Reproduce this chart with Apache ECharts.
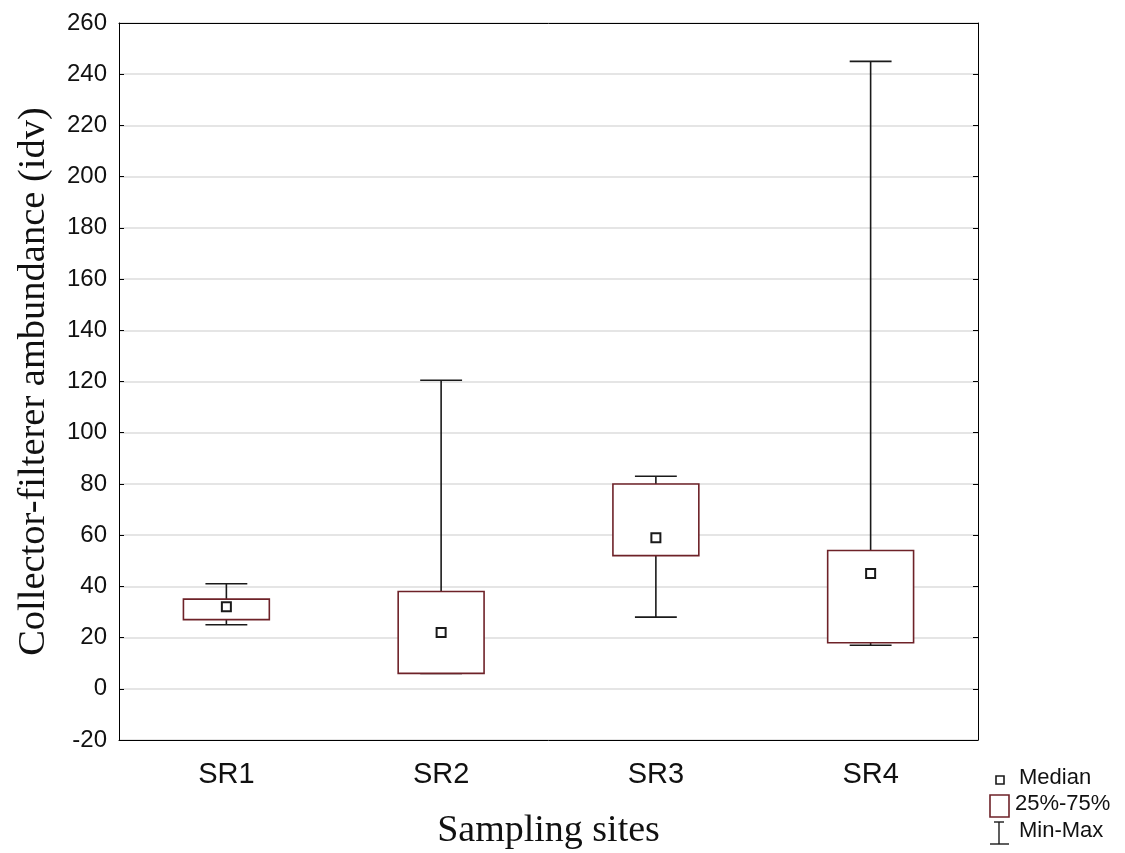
<!DOCTYPE html>
<html>
<head>
<meta charset="utf-8">
<script src="https://cdn.jsdelivr.net/npm/echarts@6/dist/echarts.min.js"></script>
<style>html,body{margin:0;padding:0;background:#fff;}#c{width:1125px;height:853px;}</style>
</head>
<body>
<div id="c"></div>
<script>
const categories = ['SR1', 'SR2', 'SR3', 'SR4'];
const minVals    = [25, 6, 28, 17];
const q1Vals     = [27, 6, 52, 18];
const medianVals = [32, 22, 59, 45];
const q3Vals     = [35, 38, 80, 54];
const maxVals    = [41, 120.5, 83, 245];
const yTicks = { min: -20, max: 260, step: 20 };
const legendLabels = ['Median', '25%-75%', 'Min-Max'];

const BOX_COLOR = '#6e2228';
const LINE_COLOR = '#1a1a1a';
const SANS = 'Liberation Sans, Arial, sans-serif';
const SERIF = 'Liberation Serif, Times New Roman, serif';

const data = categories.map((c, i) => [i, minVals[i], q1Vals[i], medianVals[i], q3Vals[i], maxVals[i]]);

function renderItem(params, api) {
  const x = api.value(0);
  const band = api.size([1, 0])[0];
  const boxW = band * 0.4;
  const capW = band * 0.195;
  const pMin = api.coord([x, api.value(1)]);
  const pQ1 = api.coord([x, api.value(2)]);
  const pMed = api.coord([x, api.value(3)]);
  const pQ3 = api.coord([x, api.value(4)]);
  const pMax = api.coord([x, api.value(5)]);
  const cx = pMed[0];
  const lineStyle = { stroke: LINE_COLOR, lineWidth: 1.6 };
  const children = [
    { type: 'line', shape: { x1: cx, y1: pQ3[1], x2: cx, y2: pMax[1] }, style: lineStyle },
    { type: 'line', shape: { x1: cx - capW / 2, y1: pMax[1], x2: cx + capW / 2, y2: pMax[1] }, style: lineStyle },
    { type: 'line', shape: { x1: cx, y1: pQ1[1], x2: cx, y2: pMin[1] }, style: lineStyle },
    { type: 'line', shape: { x1: cx - capW / 2, y1: pMin[1], x2: cx + capW / 2, y2: pMin[1] }, style: lineStyle },
    { type: 'rect', shape: { x: cx - boxW / 2, y: pQ3[1], width: boxW, height: pQ1[1] - pQ3[1] },
      style: { fill: '#fff', stroke: BOX_COLOR, lineWidth: 1.6 } },
    { type: 'rect', shape: { x: cx - 4.5, y: pMed[1] - 4.5, width: 9, height: 9 },
      style: { fill: '#fff', stroke: LINE_COLOR, lineWidth: 2 } }
  ];
  return { type: 'group', children: children };
}

const chart = echarts.init(document.getElementById('c'), null, { renderer: 'canvas' });
chart.setOption({
  backgroundColor: '#fff',
  animation: false,
  grid: { left: 119, right: 147, top: 23, bottom: 113, show: false, containLabel: false, outerBoundsMode: 'none' },
  xAxis: [{
    type: 'category',
    data: categories,
    name: 'Sampling sites',
    nameLocation: 'middle',
    nameGap: 72,
    nameTextStyle: { fontFamily: SERIF, fontSize: 38, color: '#111' },
    axisLine: { show: true, onZero: false, lineStyle: { color: '#000', width: 1 } },
    axisTick: { show: false },
    axisLabel: { fontFamily: SANS, fontSize: 29, color: '#111', margin: 20 },
    splitLine: { show: false },
    z: 10
  }, {
    type: 'category',
    data: categories,
    position: 'top',
    axisLine: { show: true, onZero: false, lineStyle: { color: '#000', width: 1 } },
    axisTick: { show: false },
    axisLabel: { show: false },
    splitLine: { show: false },
    z: 10
  }],
  yAxis: [{
    type: 'value',
    min: yTicks.min, max: yTicks.max, interval: yTicks.step,
    name: 'Collector-filterer ambundance (idv)',
    nameLocation: 'middle',
    nameGap: 66,
    nameTextStyle: { fontFamily: SERIF, fontSize: 38.5, color: '#111' },
    axisLine: { show: true, onZero: false, lineStyle: { color: '#000', width: 1 } },
    axisTick: { show: true, inside: true, length: 5, lineStyle: { color: '#000' } },
    axisLabel: { fontFamily: SANS, fontSize: 24, color: '#111', margin: 12 },
    splitLine: { show: true, lineStyle: { color: '#dcdcdc', width: 1.5 } }
  }, {
    type: 'value',
    position: 'right',
    min: yTicks.min, max: yTicks.max, interval: yTicks.step,
    axisLine: { show: true, onZero: false, lineStyle: { color: '#000', width: 1 } },
    axisTick: { show: true, inside: true, length: 5, lineStyle: { color: '#000' } },
    axisLabel: { show: false },
    splitLine: { show: false },
    z: 10
  }],
  series: [{
    type: 'custom',
    renderItem: renderItem,
    data: data,
    encode: { x: 0, y: [1, 2, 3, 4, 5] },
    clip: false
  }],
  graphic: [
    { type: 'rect', shape: { x: 996, y: 776, width: 8, height: 8 }, style: { fill: '#fff', stroke: LINE_COLOR, lineWidth: 1.6 } },
    { type: 'text', left: 1019, top: 767, style: { text: legendLabels[0], font: '22px ' + SANS, fill: '#111' } },
    { type: 'rect', shape: { x: 990, y: 795, width: 19, height: 22 }, style: { fill: '#fff', stroke: BOX_COLOR, lineWidth: 1.6 } },
    { type: 'text', left: 1015, top: 793, style: { text: legendLabels[1], font: '22px ' + SANS, fill: '#111' } },
    { type: 'line', shape: { x1: 999, y1: 822, x2: 999, y2: 844 }, style: { stroke: LINE_COLOR, lineWidth: 1.4 } },
    { type: 'line', shape: { x1: 994, y1: 822, x2: 1004, y2: 822 }, style: { stroke: LINE_COLOR, lineWidth: 1.4 } },
    { type: 'line', shape: { x1: 990, y1: 844, x2: 1009, y2: 844 }, style: { stroke: LINE_COLOR, lineWidth: 1.4 } },
    { type: 'text', left: 1019, top: 820, style: { text: legendLabels[2], font: '22px ' + SANS, fill: '#111' } }
  ]
});
</script>
</body>
</html>
